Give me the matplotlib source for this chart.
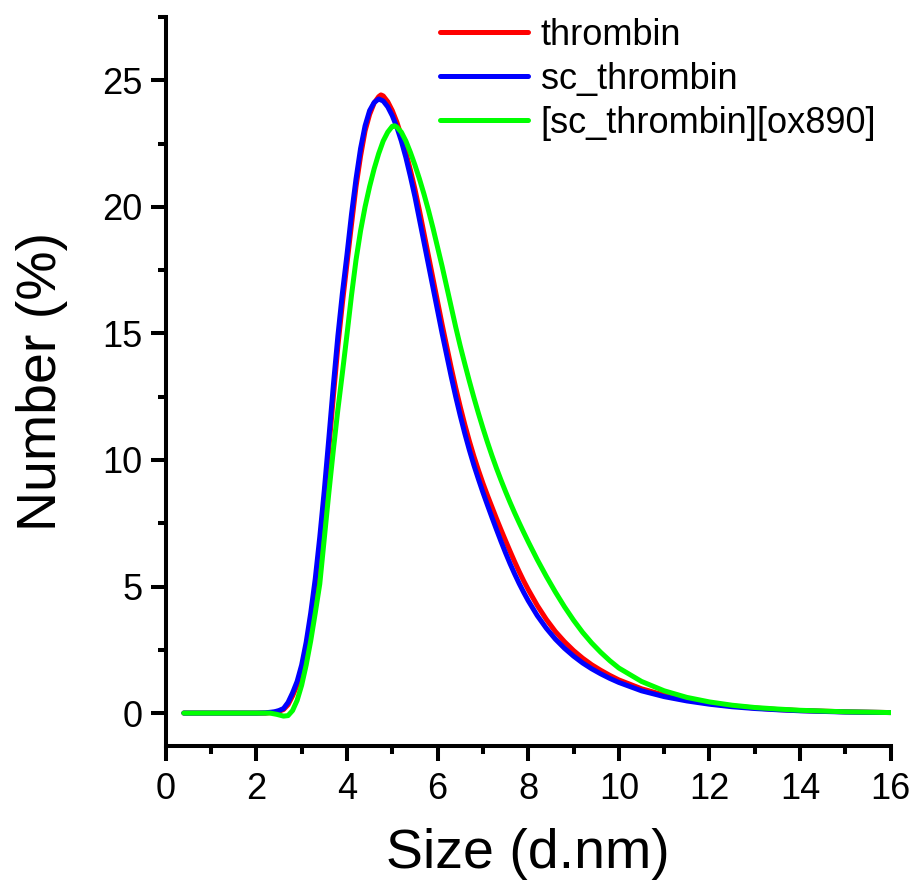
import matplotlib
matplotlib.use("Agg")
import matplotlib.pyplot as plt
from matplotlib.ticker import MultipleLocator

plt.rcParams['font.family'] = ['Liberation Sans', 'DejaVu Sans']

# ---- data ----
thrombin_x = [0.4, 1.0, 1.5, 2.0, 2.2, 2.4, 2.5, 2.6, 2.7, 2.8, 2.9, 3.0, 3.1, 3.2, 3.3,
              3.4, 3.5, 3.6, 3.7, 3.8, 3.9, 4.0, 4.1, 4.2, 4.3, 4.4, 4.5, 4.6, 4.7,
              4.75, 4.8, 4.9, 5.0, 5.1, 5.2, 5.3, 5.4, 5.5, 5.6, 5.7, 5.8, 5.9, 6.0,
              6.1, 6.2, 6.3, 6.4, 6.5, 6.6, 6.7, 6.8, 6.9, 7.0, 7.1, 7.2, 7.3, 7.4,
              7.5, 7.6, 7.7, 7.8, 7.9, 8.0, 8.2, 8.4, 8.6, 8.8, 9.0, 9.2, 9.4, 9.6,
              9.8, 10.0, 10.5, 11.0, 11.5, 12.0, 12.5, 13.0, 13.5, 14.0, 15.0, 16.0]
thrombin_y = [0.0, 0.0, 0.0, 0.0, 0.0, 0.03, 0.07, 0.14, 0.33, 0.68, 1.1, 1.75, 2.6, 3.7, 5.0,
              6.6, 8.45, 10.45, 12.5, 14.5, 16.2, 17.75, 19.3, 20.8, 22.0, 23.0, 23.65, 24.1, 24.35,
              24.42, 24.38, 24.15, 23.8, 23.35, 22.8, 22.15, 21.45, 20.7, 19.85, 18.95, 18.05, 17.15, 16.25,
              15.35, 14.5, 13.65, 12.85, 12.1, 11.4, 10.75, 10.15, 9.6, 9.08, 8.6, 8.14, 7.68, 7.24,
              6.81, 6.39, 5.98, 5.59, 5.22, 4.88, 4.25, 3.7, 3.22, 2.82, 2.47, 2.17, 1.91, 1.69,
              1.49, 1.31, 0.96, 0.71, 0.52, 0.38, 0.28, 0.2, 0.14, 0.1, 0.05, 0.02]

sc_x = [0.4, 1.0, 1.5, 2.0, 2.2, 2.4, 2.5, 2.6, 2.7, 2.8, 2.9, 3.0, 3.1, 3.2, 3.3,
        3.4, 3.5, 3.6, 3.7, 3.8, 3.9, 4.0, 4.1, 4.2, 4.3, 4.4, 4.5, 4.6, 4.7,
        4.8, 4.9, 5.0, 5.1, 5.2, 5.3, 5.4, 5.5, 5.6, 5.7, 5.8, 5.9, 6.0,
        6.1, 6.2, 6.3, 6.4, 6.5, 6.6, 6.7, 6.8, 6.9, 7.0, 7.1, 7.2, 7.3, 7.4,
        7.5, 7.6, 7.7, 7.8, 7.9, 8.0, 8.2, 8.4, 8.6, 8.8, 9.0, 9.2, 9.4, 9.6,
        9.8, 10.0, 10.5, 11.0, 11.5, 12.0, 12.5, 13.0, 13.5, 14.0, 15.0, 16.0]
sc_y = [0.0, 0.0, 0.0, 0.0, 0.01, 0.05, 0.1, 0.18, 0.42, 0.8, 1.25, 1.9, 2.8, 3.95, 5.3,
        6.95, 8.8, 10.85, 12.95, 14.9, 16.6, 18.1, 19.7, 21.1, 22.3, 23.2, 23.8, 24.12, 24.26,
        24.18, 23.95, 23.6, 23.15, 22.6, 21.95, 21.2, 20.4, 19.5, 18.6, 17.7, 16.8, 15.9,
        15.0, 14.15, 13.3, 12.5, 11.75, 11.05, 10.4, 9.8, 9.25, 8.72, 8.22, 7.73, 7.25, 6.78,
        6.33, 5.9, 5.5, 5.12, 4.77, 4.44, 3.85, 3.35, 2.92, 2.56, 2.25, 1.98, 1.75, 1.55,
        1.37, 1.21, 0.88, 0.65, 0.48, 0.35, 0.25, 0.18, 0.13, 0.09, 0.04, 0.02]

ox_x = [0.4, 1.0, 1.5, 2.0, 2.3, 2.45, 2.6, 2.7, 2.8, 2.9, 3.0, 3.1, 3.2, 3.3,
        3.4, 3.5, 3.6, 3.7, 3.8, 3.9, 4.0, 4.1, 4.2, 4.3, 4.4, 4.5, 4.6, 4.7,
        4.8, 4.9, 5.0, 5.05, 5.1, 5.2, 5.3, 5.4, 5.5, 5.6, 5.7, 5.8, 5.9, 6.0,
        6.1, 6.2, 6.3, 6.4, 6.5, 6.6, 6.7, 6.8, 6.9, 7.0, 7.1, 7.2, 7.3, 7.4,
        7.5, 7.6, 7.7, 7.8, 7.9, 8.0, 8.2, 8.4, 8.6, 8.8, 9.0, 9.2, 9.4, 9.6,
        9.8, 10.0, 10.5, 11.0, 11.5, 12.0, 12.5, 13.0, 13.5, 14.0, 15.0, 16.0]
ox_y = [0.0, 0.0, 0.0, 0.0, 0.0, -0.05, -0.12, -0.1, 0.1, 0.5, 1.1, 1.9, 2.85, 3.95,
        5.1, 6.9, 8.7, 10.4, 12.0, 13.45, 14.95, 16.5, 17.9, 19.05, 20.0, 20.8, 21.5, 22.1,
        22.6, 22.95, 23.18, 23.2, 23.15, 22.95, 22.6, 22.15, 21.65, 21.1, 20.5, 19.85, 19.15, 18.4,
        17.65, 16.85, 16.05, 15.25, 14.5, 13.8, 13.12, 12.47, 11.85, 11.26, 10.7, 10.17, 9.67, 9.2,
        8.75, 8.32, 7.91, 7.52, 7.14, 6.77, 6.06, 5.4, 4.78, 4.2, 3.67, 3.19, 2.77, 2.4,
        2.07, 1.78, 1.25, 0.88, 0.62, 0.44, 0.31, 0.22, 0.16, 0.11, 0.05, 0.02]

series = [
    ("thrombin", thrombin_x, thrombin_y, "#ff0000"),
    ("sc_thrombin", sc_x, sc_y, "#0000ff"),
    ("[sc_thrombin][ox890]", ox_x, ox_y, "#00ff00"),
]

fig = plt.figure(figsize=(9.16, 8.92), dpi=100)
ax = fig.add_axes([0.1809, 0.1637, 0.9724 - 0.1809, 0.981 - 0.1637])

for name, xs, ys, c in series:
    ax.plot(xs, ys, color=c, lw=3.6, label=name, solid_capstyle='round',
            solid_joinstyle='round')

ax.set_xlim(0, 16)
ax.set_ylim(-1.3, 27.5)
ax.xaxis.set_major_locator(MultipleLocator(2))
ax.xaxis.set_minor_locator(MultipleLocator(1))
ax.yaxis.set_major_locator(MultipleLocator(5))
ax.yaxis.set_minor_locator(MultipleLocator(2.5))

for s in ['top', 'right']:
    ax.spines[s].set_visible(False)
for s in ['left', 'bottom']:
    ax.spines[s].set_linewidth(2.9)
    ax.spines[s].set_capstyle('projecting')

ax.tick_params(which='major', direction='out', length=10.5, width=2.9,
               labelsize=26, pad=6)
ax.tick_params(which='minor', direction='out', length=5.5, width=2.9)
ax.tick_params(axis='x', which='major', pad=8)

ax.set_xlabel("Size (d.nm)", fontsize=40)
ax.set_ylabel("Number (%)", fontsize=40)
ax.xaxis.set_label_coords(0.5, -0.112)
ax.yaxis.set_label_coords(-0.135, 0.5)

leg = ax.legend(loc='upper right', frameon=False, fontsize=26,
                handlelength=2.45, handletextpad=0.35, labelspacing=0.25,
                bbox_to_anchor=(1.0, 1.019), borderaxespad=0.0)

fig.savefig("out.png", dpi=100)
